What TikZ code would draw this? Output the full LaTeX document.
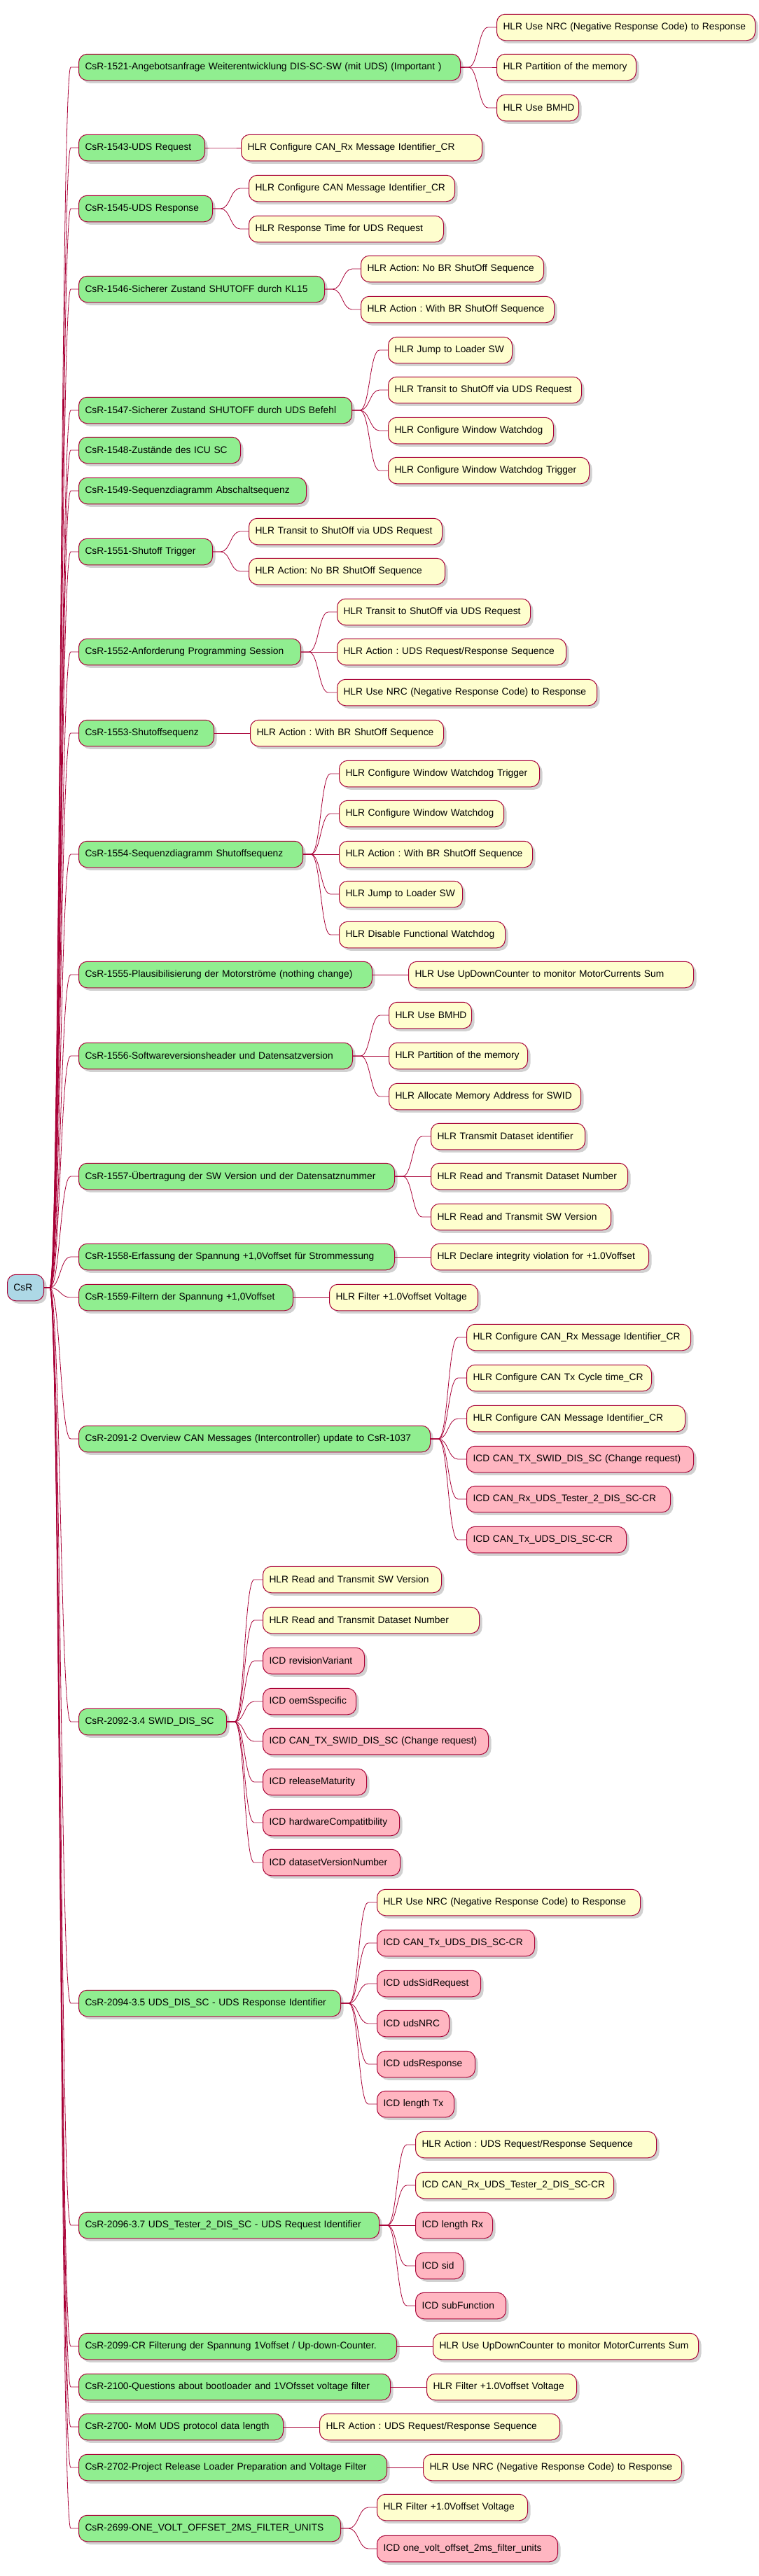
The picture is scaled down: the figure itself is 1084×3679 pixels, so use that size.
\documentclass[tikz,border=0pt]{standalone}
\usepackage{fontspec}
\setmainfont{Liberation Sans}
\usepackage{xcolor}
\usetikzlibrary{shadows}

\definecolor{mmline}{HTML}{A80036}
\definecolor{rootfill}{HTML}{ADD8E6}
\definecolor{reqfill}{HTML}{90EE90}
\definecolor{hlrfill}{HTML}{FEFECE}
\definecolor{icdfill}{HTML}{FFB6C1}

\tikzset{
    mmbox/.style={draw=mmline, line width=1pt, rounded corners=12pt, anchor=west,
        minimum height=37.5pt, inner xsep=9pt, inner ysep=0pt,
        font=\fontsize{13.8pt}{16pt}\selectfont\frenchspacing,
        drop shadow={shadow xshift=4pt, shadow yshift=-4pt, fill=black, opacity=0.18}},
    link/.style={draw=mmline, line width=0.8pt}
}

\begin{document}
\begin{tikzpicture}[x=1pt, y=-1pt]
        \useasboundingbox (0,0) rectangle (1084,3679);

        % Root
        \node[mmbox, fill=rootfill, text width=34pt] (root) at (10,1839) {CsR};

        % Requirements (first level)
        \foreach \nm/\y/\w/\txt [evaluate=\w as \tw using \w-18] in {
            r1521/96/545/{CsR-1521-Angebotsanfrage Weiterentwicklung DIS-SC-SW (mit UDS) (Important )},
            r1543/211/180/{CsR-1543-UDS Request},
            r1545/298/191/{CsR-1545-UDS Response},
            r1546/413/351/{CsR-1546-Sicherer Zustand SHUTOFF durch KL15},
            r1547/586/390/{CsR-1547-Sicherer Zustand SHUTOFF durch UDS Befehl},
            r1548/643/231/{CsR-1548-Zustände des ICU SC},
            r1549/701/325/{CsR-1549-Sequenzdiagramm Abschaltsequenz},
            r1551/788/191/{CsR-1551-Shutoff Trigger},
            r1552/931/317/{CsR-1552-Anforderung Programming Session},
            r1553/1047/193/{CsR-1553-Shutoffsequenz},
            r1554/1220/320/{CsR-1554-Sequenzdiagramm Shutoffsequenz},
            r1555/1392/419/{CsR-1555-Plausibilisierung der Motorströme (nothing change)},
            r1556/1508/391/{CsR-1556-Softwareversionsheader und Datensatzversion},
            r1557/1680/451/{CsR-1557-Übertragung der SW Version und der Datensatznummer},
            r1558/1795/451/{CsR-1558-Erfassung der Spannung +1,0Voffset für Strommessung},
            r1559/1853/306/{CsR-1559-Filtern der Spannung +1,0Voffset},
            r2091/2055/502/{CsR-2091-2 Overview CAN Messages (Intercontroller) update to CsR-1037},
            r2092/2459/211/{CsR-2092-3.4 SWID\_DIS\_SC},
            r2094/2861/374/{CsR-2094-3.5 UDS\_DIS\_SC - UDS Response Identifier},
            r2096/3178/429/{CsR-2096-3.7 UDS\_Tester\_2\_DIS\_SC - UDS Request Identifier},
            r2099/3351/454/{CsR-2099-CR Filterung der Spannung 1Voffset / Up-down-Counter.},
            r2100/3409/445/{CsR-2100-Questions about bootloader and 1VOfsset voltage filter},
            r2700/3466/292/{CsR-2700- MoM UDS protocol data length},
            r2702/3524/440/{CsR-2702-Project Release Loader Preparation and Voltage Filter},
            r2699/3611/374/{CsR-2699-ONE\_VOLT\_OFFSET\_2MS\_FILTER\_UNITS}
        } {
            \node[mmbox, fill=reqfill, text width=\tw pt] (\nm) at (112,\y) {\mbox{\txt}};
            \draw[link] (root.east) -- ++(8,0) .. controls +(15,0) and +(-15,0) .. ([xshift=-11pt]\nm.west) -- (\nm.west);
        }

        % HLR and ICD items (second level)
        \foreach \pn/\nm/\y/\w/\fc/\txt [evaluate=\w as \tw using \w-18] in {
            r1521/h01/39/369/hlrfill/{HLR Use NRC (Negative Response Code) to Response},
            r1521/h02/96/199/hlrfill/{HLR Partition of the memory},
            r1521/h03/154/117/hlrfill/{HLR Use BMHD},
            r1543/h04/211/344/hlrfill/{HLR Configure CAN\_Rx Message Identifier\_CR},
            r1545/h05/269/294/hlrfill/{HLR Configure CAN Message Identifier\_CR},
            r1545/h06/327/278/hlrfill/{HLR Response Time for UDS Request},
            r1546/h07/384/261/hlrfill/{HLR Action: No BR ShutOff Sequence},
            r1546/h08/442/276/hlrfill/{HLR Action : With BR ShutOff Sequence},
            r1547/h09/500/177/hlrfill/{HLR Jump to Loader SW},
            r1547/h10/557/276/hlrfill/{HLR Transit to ShutOff via UDS Request},
            r1547/h11/615/236/hlrfill/{HLR Configure Window Watchdog},
            r1547/h12/672/287/hlrfill/{HLR Configure Window Watchdog Trigger},
            r1551/h13/759/276/hlrfill/{HLR Transit to ShutOff via UDS Request},
            r1551/h14/816/280/hlrfill/{HLR Action: No BR ShutOff Sequence},
            r1552/h15/874/276/hlrfill/{HLR Transit to ShutOff via UDS Request},
            r1552/h16/931/327/hlrfill/{HLR Action : UDS Request/Response Sequence},
            r1552/h17/989/371/hlrfill/{HLR Use NRC (Negative Response Code) to Response},
            r1553/h18/1047/276/hlrfill/{HLR Action : With BR ShutOff Sequence},
            r1554/h19/1105/286/hlrfill/{HLR Configure Window Watchdog Trigger},
            r1554/h20/1162/235/hlrfill/{HLR Configure Window Watchdog},
            r1554/h21/1220/276/hlrfill/{HLR Action : With BR ShutOff Sequence},
            r1554/h22/1277/176/hlrfill/{HLR Jump to Loader SW},
            r1554/h23/1335/237/hlrfill/{HLR Disable Functional Watchdog},
            r1555/h24/1392/407/hlrfill/{HLR Use UpDownCounter to monitor MotorCurrents Sum},
            r1556/h25/1450/118/hlrfill/{HLR Use BMHD},
            r1556/h26/1508/198/hlrfill/{HLR Partition of the memory},
            r1556/h27/1566/274/hlrfill/{HLR Allocate Memory Address for SWID},
            r1557/h28/1623/220/hlrfill/{HLR Transmit Dataset identifier},
            r1557/h29/1680/281/hlrfill/{HLR Read and Transmit Dataset Number},
            r1557/h30/1738/257/hlrfill/{HLR Read and Transmit SW Version},
            r1558/h31/1795/311/hlrfill/{HLR Declare integrity violation for +1.0Voffset},
            r1559/h32/1853/212/hlrfill/{HLR Filter +1.0Voffset Voltage},
            r2091/h33/1910/320/hlrfill/{HLR Configure CAN\_Rx Message Identifier\_CR},
            r2091/h34/1968/264/hlrfill/{HLR Configure CAN Tx Cycle time\_CR},
            r2091/h35/2026/312/hlrfill/{HLR Configure CAN Message Identifier\_CR},
            r2091/h36/2084/324/icdfill/{ICD CAN\_TX\_SWID\_DIS\_SC (Change request)},
            r2091/h37/2141/291/icdfill/{ICD CAN\_Rx\_UDS\_Tester\_2\_DIS\_SC-CR},
            r2091/h38/2199/228/icdfill/{ICD CAN\_Tx\_UDS\_DIS\_SC-CR},
            r2092/h39/2256/255/hlrfill/{HLR Read and Transmit SW Version},
            r2092/h40/2314/309/hlrfill/{HLR Read and Transmit Dataset Number},
            r2092/h41/2372/145/icdfill/{ICD revisionVariant},
            r2092/h42/2430/133/icdfill/{ICD oemSspecific},
            r2092/h43/2487/322/icdfill/{ICD CAN\_TX\_SWID\_DIS\_SC (Change request)},
            r2092/h44/2545/148/icdfill/{ICD releaseMaturity},
            r2092/h45/2603/195/icdfill/{ICD hardwareCompatitbility},
            r2092/h46/2660/196/icdfill/{ICD datasetVersionNumber},
            r2094/h47/2717/376/hlrfill/{HLR Use NRC (Negative Response Code) to Response},
            r2094/h48/2775/225/icdfill/{ICD CAN\_Tx\_UDS\_DIS\_SC-CR},
            r2094/h49/2833/148/icdfill/{ICD udsSidRequest},
            r2094/h50/2890/103/icdfill/{ICD udsNRC},
            r2094/h51/2948/140/icdfill/{ICD udsResponse},
            r2094/h52/3005/110/icdfill/{ICD length Tx},
            r2096/h53/3063/344/hlrfill/{HLR Action : UDS Request/Response Sequence},
            r2096/h54/3121/283/hlrfill/{ICD CAN\_Rx\_UDS\_Tester\_2\_DIS\_SC-CR},
            r2096/h55/3178/110/icdfill/{ICD length Rx},
            r2096/h56/3236/68/icdfill/{ICD sid},
            r2096/h57/3293/129/icdfill/{ICD subFunction},
            r2099/h58/3351/379/hlrfill/{HLR Use UpDownCounter to monitor MotorCurrents Sum},
            r2100/h59/3409/214/hlrfill/{HLR Filter +1.0Voffset Voltage},
            r2700/h60/3466/343/hlrfill/{HLR Action : UDS Request/Response Sequence},
            r2702/h61/3524/369/hlrfill/{HLR Use NRC (Negative Response Code) to Response},
            r2699/h62/3581/215/hlrfill/{HLR Filter +1.0Voffset Voltage},
            r2699/h63/3640/258/icdfill/{ICD one\_volt\_offset\_2ms\_filter\_units}
        } {
            \node[mmbox, fill=\fc, text width=\tw pt, xshift=51pt] (\nm) at (\pn.east |- 0,\y) {\mbox{\txt}};
            \draw[link] (\pn.east) -- ++(11,0) .. controls +(14,0) and +(-14,0) .. ([xshift=-12pt]\nm.west) -- (\nm.west);
        }
    \end{tikzpicture}
\end{document}
